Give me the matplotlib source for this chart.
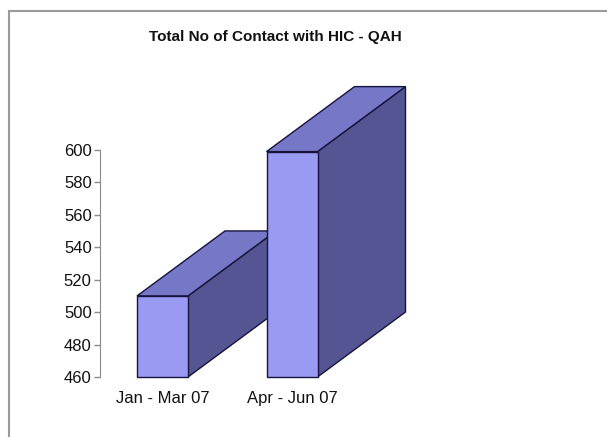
import matplotlib.pyplot as plt
from matplotlib.patches import Polygon
from matplotlib.lines import Line2D

plt.rcParams['font.family'] = ['Liberation Sans', 'DejaVu Sans']

# Chart data
categories = ["Jan - Mar 07", "Apr - Jun 07"]
values = [510, 599]
y_ticks = [460, 480, 500, 520, 540, 560, 580, 600]
title = "Total No of Contact with HIC - QAH"

# Excel-like 3D bar colours
FRONT = "#9a9af2"
TOP = "#7777c8"
SIDE = "#555594"
EDGE = "#14143c"

W, H = 607, 437
fig = plt.figure(figsize=(W / 100, H / 100), dpi=100)

# frame lines (left and top only, like the cropped chart area)
fig.add_artist(Line2D([9 / W, 9 / W], [0, 1 - 11 / H], color="#9a9a9a", lw=1.5))
fig.add_artist(Line2D([9 / W, 1], [1 - 11 / H, 1 - 11 / H], color="#9a9a9a", lw=1.5))

# axes placed in pixels: left at x=100, value 460 at y=377, 600 at y=150
ax_left, ax_right, ax_bottom, ax_top = 100, 560, 377, 60
ax = fig.add_axes([ax_left / W, 1 - ax_bottom / H,
                   (ax_right - ax_left) / W, (ax_bottom - ax_top) / H])

y_per_px = (600 - 460) / (377 - 150)
ymax = 460 + (ax_bottom - ax_top) * y_per_px
px_per_cat = 129.5
x0_px = 162.5
xmin = -(x0_px - ax_left) / px_per_cat
xmax = (ax_right - x0_px) / px_per_cat
ax.set_xlim(xmin, xmax)
ax.set_ylim(460, ymax)

bar_w = 51 / px_per_cat
dx = 88 / px_per_cat
dy = 65 * y_per_px
base = 460

for i, v in enumerate(values):
    xl = i - bar_w / 2
    xr = i + bar_w / 2
    side = Polygon([(xr, base), (xr + dx, base + dy), (xr + dx, v + dy), (xr, v)],
                   closed=True, facecolor=SIDE, edgecolor=EDGE, lw=1.0, zorder=3 + 2 * i)
    top = Polygon([(xl, v), (xl + dx, v + dy), (xr + dx, v + dy), (xr, v)],
                  closed=True, facecolor=TOP, edgecolor=EDGE, lw=1.0, zorder=3 + 2 * i)
    front = Polygon([(xl, base), (xl, v), (xr, v), (xr, base)],
                    closed=True, facecolor=FRONT, edgecolor=EDGE, lw=1.0, zorder=4 + 2 * i)
    for p in (side, top, front):
        p.set_clip_on(False)
        ax.add_patch(p)

ax.set_yticks(y_ticks)
ax.set_yticklabels([str(t) for t in y_ticks], fontsize=12, color="#111111")
ax.set_xticks(range(len(categories)))
ax.set_xticklabels(categories, fontsize=12, color="#111111")
ax.tick_params(axis="x", length=0, pad=10)
ax.tick_params(axis="y", length=4, width=1, color="#8a8a8a", pad=2)

for s in ("top", "right", "bottom"):
    ax.spines[s].set_visible(False)
ax.spines["left"].set_bounds(460, 600)
ax.spines["left"].set_color("#8a8a8a")
ax.patch.set_visible(False)

fig.text(275 / W, 1 - 37 / H, title, ha="center", va="center",
         fontsize=11, fontweight="bold", color="#111111")

fig.savefig("out.png", dpi=100)
